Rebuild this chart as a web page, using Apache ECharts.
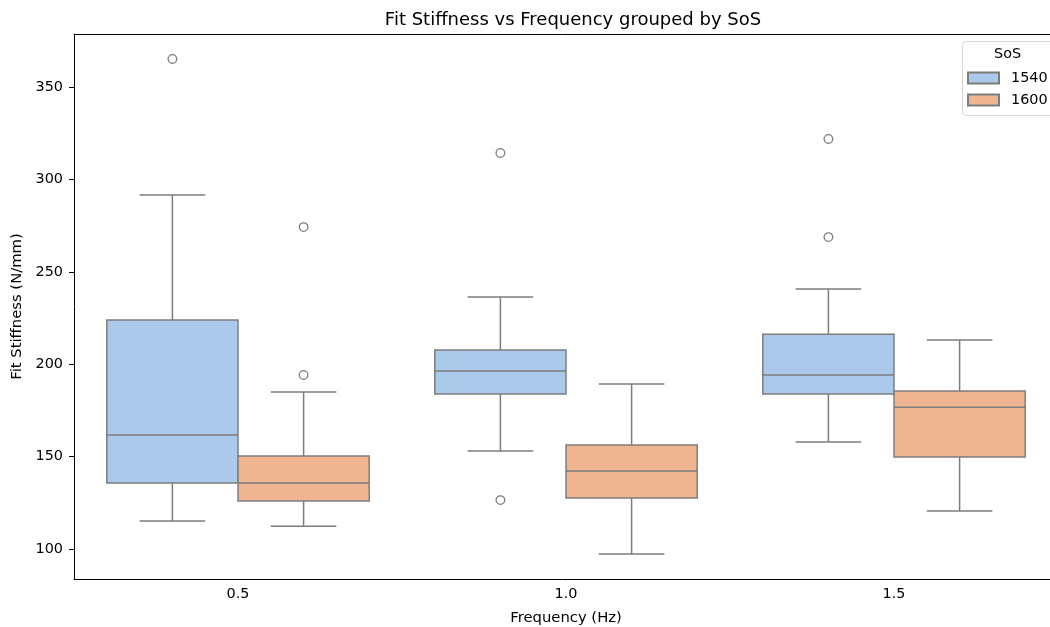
<!DOCTYPE html>
<html>
<head>
<meta charset="utf-8">
<script src="https://cdn.jsdelivr.net/npm/echarts@6/dist/echarts.min.js"></script>
<style>
html,body{margin:0;padding:0;background:#fff;}
#chart{width:1050px;height:627px;}
</style>
</head>
<body>
<div id="chart"></div>
<script>
// ---- data ----
const categories = ['0.5', '1.0', '1.5'];
const hueLevels = ['1540', '1600'];
// [min whisker, Q1, median, Q3, max whisker]
const box1540 = [
  [115.2, 135.7, 161.7, 223.9, 291.6],
  [153.0, 183.9, 196.3, 207.7, 236.4],
  [157.9, 183.9, 194.2, 216.3, 240.7]
];
const box1600 = [
  [112.4, 126.0, 135.7, 150.3, 185.0],
  [97.3, 127.6, 142.2, 156.3, 189.3],
  [120.6, 149.8, 176.8, 185.5, 213.1]
];
const outliers1540 = [[365.2], [314.3, 126.5], [321.9, 268.8]];
const outliers1600 = [[274.2, 194.2], [], []];
const yTicks = [100, 150, 200, 250, 300, 350];

const colors = ['#abc9ea', '#efb591'];
const lineColor = '#7d7d7d';
const FONT = 'DejaVu Sans';
const FS = 14.4;

function boxData(arr) {
  return arr.map((b, i) => [i].concat(b));
}
function outData(arr) {
  const res = [];
  arr.forEach((vals, i) => vals.forEach(v => res.push([i, v])));
  return res;
}

function makeBoxRender(side) {
  return function (params, api) {
    const cat = api.value(0);
    const band = api.size([1, 0])[0];
    const bw = band * 0.4;
    const cx = api.coord([cat, api.value(3)])[0] + side * band * 0.2;
    const yMin = api.coord([cat, api.value(1)])[1];
    const yQ1 = api.coord([cat, api.value(2)])[1];
    const yMed = api.coord([cat, api.value(3)])[1];
    const yQ3 = api.coord([cat, api.value(4)])[1];
    const yMax = api.coord([cat, api.value(5)])[1];
    const ls = { stroke: lineColor, lineWidth: 1.5 };
    const cap = bw * 0.25;
    return {
      type: 'group',
      children: [
        { type: 'line', shape: { x1: cx, y1: yQ3, x2: cx, y2: yMax }, style: ls },
        { type: 'line', shape: { x1: cx, y1: yQ1, x2: cx, y2: yMin }, style: ls },
        { type: 'line', shape: { x1: cx - cap, y1: yMax, x2: cx + cap, y2: yMax }, style: ls },
        { type: 'line', shape: { x1: cx - cap, y1: yMin, x2: cx + cap, y2: yMin }, style: ls },
        { type: 'rect', shape: { x: cx - bw / 2, y: yQ3, width: bw, height: yQ1 - yQ3 },
          style: { fill: api.visual('color'), stroke: lineColor, lineWidth: 1.5 } },
        { type: 'line', shape: { x1: cx - bw / 2, y1: yMed, x2: cx + bw / 2, y2: yMed }, style: ls }
      ]
    };
  };
}

function makeOutRender(side) {
  return function (params, api) {
    const cat = api.value(0);
    const band = api.size([1, 0])[0];
    const p = api.coord([cat, api.value(1)]);
    return {
      type: 'circle',
      shape: { cx: p[0] + side * band * 0.2, cy: p[1], r: 4.3 },
      style: { fill: 'none', stroke: lineColor, lineWidth: 1.3 }
    };
  };
}

const chart = echarts.init(document.getElementById('chart'), null, { renderer: 'canvas' });
const axisLineStyle = { color: '#000', width: 1 };
chart.setOption({
  animation: false,
  backgroundColor: '#fff',
  textStyle: { fontFamily: FONT },
  title: {
    text: 'Fit Stiffness vs Frequency grouped by SoS',
    left: 568, top: 6, textAlign: 'center',
    textStyle: { fontFamily: FONT, fontSize: 18, fontWeight: 'normal', color: '#000' }
  },
  grid: { left: 74, top: 34, right: -8, bottom: 48, containLabel: false, outerBoundsMode: 'none' },
  xAxis: [{
    type: 'category',
    data: categories,
    boundaryGap: true,
    name: 'Frequency (Hz)',
    nameLocation: 'middle',
    nameGap: 32,
    nameTextStyle: { fontFamily: FONT, fontSize: 14.8, color: '#000' },
    axisLine: { lineStyle: axisLineStyle },
    axisTick: { alignWithLabel: true, length: 5, lineStyle: { color: '#000' } },
    axisLabel: { fontFamily: FONT, fontSize: FS, color: '#000', margin: 8 },
    splitLine: { show: false }
  }, {
    type: 'category',
    data: categories,
    position: 'top',
    axisLine: { lineStyle: axisLineStyle },
    axisTick: { show: false },
    axisLabel: { show: false },
    splitLine: { show: false }
  }],
  yAxis: {
    type: 'value',
    min: 83.8,
    max: 378.7,
    name: 'Fit Stiffness (N/mm)',
    nameLocation: 'middle',
    nameRotate: 90,
    nameGap: 46,
    nameTextStyle: { fontFamily: FONT, fontSize: 14.8, color: '#000' },
    axisLine: { show: true, lineStyle: axisLineStyle },
    axisTick: { show: true, length: 5, customValues: yTicks, lineStyle: { color: '#000' } },
    axisLabel: { fontFamily: FONT, fontSize: FS, color: '#000', margin: 11, customValues: yTicks },
    splitLine: { show: false }
  },
  legend: {
    data: hueLevels,
    orient: 'vertical',
    left: 967, top: 71,
    padding: 0,
    itemWidth: 31, itemHeight: 11,
    itemGap: 8,
    icon: 'rect',
    textStyle: { fontFamily: FONT, fontSize: FS, color: '#000', padding: [0, 0, 0, 7] }
  },
  graphic: [
    { type: 'rect', left: 962, top: 41, z: 1,
      shape: { width: 100, height: 74, r: 4 },
      style: { fill: 'rgba(255,255,255,0.8)', stroke: '#d6d6d6', lineWidth: 1 } },
    { type: 'text', left: 994, top: 47, z: 5,
      style: { text: 'SoS', fontFamily: FONT, fontSize: FS, fill: '#000' } }
  ],
  series: [
    { name: hueLevels[0], type: 'custom', renderItem: makeBoxRender(-1),
      data: boxData(box1540), encode: { x: 0, y: [1, 2, 3, 4, 5] },
      itemStyle: { color: colors[0], borderColor: lineColor, borderWidth: 1.2 } },
    { name: hueLevels[1], type: 'custom', renderItem: makeBoxRender(1),
      data: boxData(box1600), encode: { x: 0, y: [1, 2, 3, 4, 5] },
      itemStyle: { color: colors[1], borderColor: lineColor, borderWidth: 1.2 } },
    { name: 'out1540', type: 'custom', renderItem: makeOutRender(-1),
      data: outData(outliers1540), encode: { x: 0, y: 1 } },
    { name: 'out1600', type: 'custom', renderItem: makeOutRender(1),
      data: outData(outliers1600), encode: { x: 0, y: 1 } }
  ]
});
</script>
</body>
</html>
